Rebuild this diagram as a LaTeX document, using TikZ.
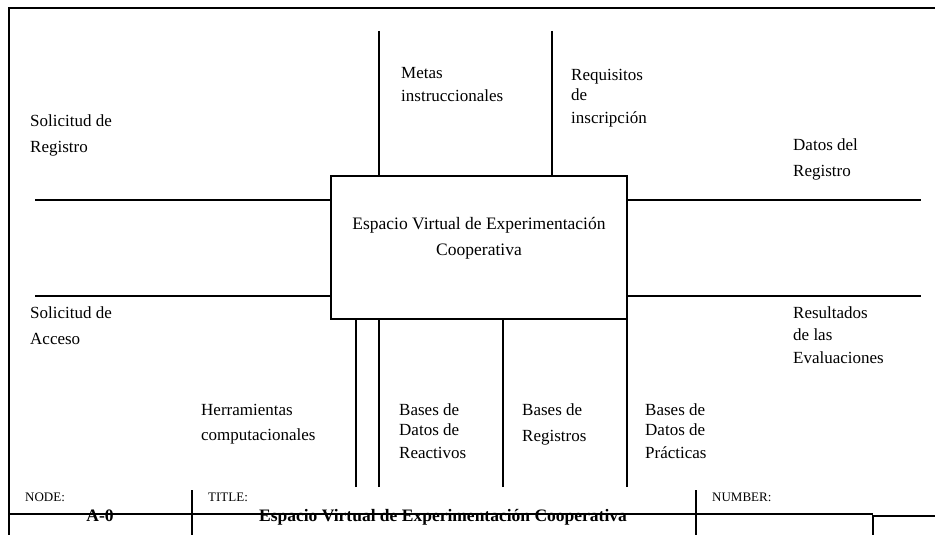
\documentclass[tikz,border=0pt]{standalone}
\usepackage{fontspec}
\setmainfont{Liberation Serif}
\begin{document}
\begin{tikzpicture}[x=1pt,y=-1pt,
  frame/.style={line width=2pt},
  conn/.style={line width=1.6pt},
  box/.style={draw,line width=2pt,minimum width=296pt,minimum height=143pt,inner sep=0pt},
  lbl/.style={anchor=base west,inner sep=0pt,align=left,font=\fontsize{17}{20}\selectfont},
  ttl/.style={anchor=base west,inner sep=0pt,font=\fontsize{13}{15}\selectfont},
  btl/.style={anchor=base,inner sep=0pt,font=\fontsize{17.5}{20}\selectfont\bfseries}]
\useasboundingbox (0,0) rectangle (935,535);
% outer frame
\coordinate (fTL) at (9,8);
\coordinate (fTR) at (935,8);
\coordinate (fBL) at (9,535);
\draw[frame] (fTR) -- (fTL) -- (fBL);
% main box
\node[box] (A0) at (479,247.5) {};
\node[anchor=base,inner sep=0pt,align=center,font=\fontsize{17.5}{26}\selectfont] (A0t) at (479,255)
  {Espacio Virtual de Experimentación\\Cooperativa};
% controls (top)
\coordinate (c1) at (379,31);
\coordinate (c2) at (552,31);
\draw[conn] (c1) -- (c1 |- A0.north);
\draw[conn] (c2) -- (c2 |- A0.north);
% inputs (left)
\coordinate (i1) at (35,200);
\coordinate (i2) at (35,296);
\draw[conn] (i1) -- (i1 -| A0.west);
\draw[conn] (i2) -- (i2 -| A0.west);
% outputs (right)
\coordinate (o1) at (921,200);
\coordinate (o2) at (921,296);
\draw[conn] (o1 -| A0.east) -- (o1);
\draw[conn] (o2 -| A0.east) -- (o2);
% mechanisms (bottom)
\coordinate (m1) at (356,487);
\coordinate (m2) at (379,487);
\coordinate (m3) at (503,487);
\coordinate (m4) at (627,487);
\draw[conn] (m1) -- (m1 |- A0.south);
\draw[conn] (m2) -- (m2 |- A0.south);
\draw[conn] (m3) -- (m3 |- A0.south);
\draw[conn] (m4) -- (m4 |- A0.south);
% labels (anchor = baseline of last line)
\node[lbl] (lMetas) at (401,102) {Metas\\[4pt]instruccionales};
\node[lbl] (lReq) at (571,123) {Requisitos\\[1pt]de\\[2pt]inscripción};
\node[lbl] (lSolR) at (30,152) {Solicitud de\\[6pt]Registro};
\node[lbl] (lDatR) at (793,176) {Datos del\\[6pt]Registro};
\node[lbl] (lSolA) at (30,344) {Solicitud de\\[6pt]Acceso};
\node[lbl] (lRes) at (793,363) {Resultados\\[2pt]de las\\[3pt]Evaluaciones};
\node[lbl] (lHer) at (201,440) {Herramientas\\[5pt]computacionales};
\node[lbl] (lBDR) at (399,458) {Bases de\\Datos de\\[3pt]Reactivos};
\node[lbl] (lBR) at (522,441) {Bases de\\[6pt]Registros};
\node[lbl] (lBDP) at (645,458) {Bases de\\Datos de\\[3pt]Prácticas};
% title block
\coordinate (tL) at (9,514);
\coordinate (tR) at (873,514);
\draw[frame] (tL) -- (tR);
\coordinate (v1a) at (192,490);
\coordinate (v1b) at (192,535);
\coordinate (v2a) at (696,490);
\coordinate (v2b) at (696,535);
\draw[frame] (v1a) -- (v1b);
\draw[frame] (v2a) -- (v2b);
\coordinate (rA) at (873,535);
\coordinate (rB) at (873,516);
\coordinate (rC) at (935,516);
\draw[line width=2.5pt] (rA) -- (rB) -- (rC);
\node[ttl] (tNode) at (25,501) {NODE:};
\node[ttl] (tTitle) at (208,501) {TITLE:};
\node[ttl] (tNum) at (712,501) {NUMBER:};
\node[btl] (tA0) at (100,521) {A-0};
\node[btl] (tName) at (443,521) {Espacio Virtual de Experimentación Cooperativa};
\end{tikzpicture}
\end{document}
